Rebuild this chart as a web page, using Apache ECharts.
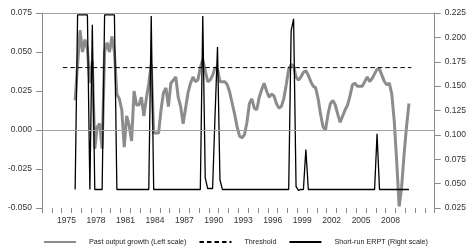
<!DOCTYPE html>
<html>
<head>
<meta charset="utf-8">
<script src="https://cdn.jsdelivr.net/npm/echarts@6/dist/echarts.min.js"></script>
<style>
html, body { margin: 0; padding: 0; background: #fff; }
#chart { width: 469px; height: 252px; }
</style>
</head>
<body>
<div id="chart"></div>
<script>
// year bands on the axis, quarters inside them
var firstYear = 1973, lastYear = 2012;
var years = [];
for (var y = firstYear; y <= lastYear; y++) years.push(String(y));
var quarters = [];
years.forEach(function (y) {
    for (var q = 1; q <= 4; q++) quarters.push(y + 'Q' + q);
});
var labelYears = ['1975', '1978', '1981', '1984', '1987', '1990', '1993', '1996', '1999', '2002', '2005', '2008'];

var seriesStart = '1976Q2';

// past output growth, left scale
var growth = [
    0.019, 0.042, 0.064, 0.050, 0.058, 0.052, 0.030, 0.044, -0.012, 0.002,
    0.004, -0.012, 0.050, 0.056, 0.050, 0.060, 0.050, 0.023, 0.020, 0.013,
    -0.011, 0.009, 0.003, -0.007, 0.025, 0.016, 0.016, 0.021, 0.009, 0.020,
    0.030, 0.042, -0.002, -0.002, -0.002, 0.013, 0.024, 0.027, 0.015, 0.030,
    0.032, 0.034, 0.021, 0.015, 0.004, 0.014, 0.024, 0.030, 0.034, 0.031,
    0.032, 0.040, 0.045, 0.038, 0.031, 0.032, 0.035, 0.040, 0.039, 0.031,
    0.031, 0.031, 0.029, 0.024, 0.017, 0.010, 0.002, -0.004, -0.005, -0.003,
    0.005, 0.017, 0.020, 0.014, 0.013, 0.021, 0.026, 0.030, 0.025, 0.021,
    0.023, 0.022, 0.017, 0.014, 0.015, 0.020, 0.029, 0.039, 0.042, 0.041,
    0.034, 0.032, 0.034, 0.037, 0.038, 0.035, 0.031, 0.028, 0.027, 0.020,
    0.010, 0.002, 0.000, 0.010, 0.017, 0.019, 0.016, 0.010, 0.005, 0.009,
    0.013, 0.016, 0.022, 0.029, 0.030, 0.028, 0.028, 0.028, 0.031, 0.034,
    0.031, 0.033, 0.036, 0.039, 0.039, 0.035, 0.031, 0.029, 0.030, 0.023,
    0.006, -0.020, -0.049, -0.037, -0.016, 0.002, 0.017
];

// short-run ERPT, right scale
var erpt = [
    0.044, 0.223, 0.223, 0.223, 0.223, 0.223, 0.044, 0.213, 0.044, 0.044,
    0.044, 0.044, 0.223, 0.223, 0.223, 0.223, 0.223, 0.044, 0.044, 0.044,
    0.044, 0.044, 0.044, 0.044, 0.044, 0.044, 0.044, 0.044, 0.044, 0.044,
    0.044, 0.222, 0.044, 0.044, 0.044, 0.044, 0.044, 0.044, 0.044, 0.044,
    0.044, 0.044, 0.044, 0.044, 0.044, 0.044, 0.044, 0.044, 0.044, 0.044,
    0.044, 0.044, 0.222, 0.056, 0.045, 0.045, 0.045, 0.120, 0.190, 0.054,
    0.044, 0.044, 0.044, 0.044, 0.044, 0.044, 0.044, 0.044, 0.044, 0.044,
    0.044, 0.044, 0.044, 0.044, 0.044, 0.044, 0.044, 0.044, 0.044, 0.044,
    0.044, 0.044, 0.044, 0.044, 0.044, 0.044, 0.044, 0.044, 0.207, 0.219,
    0.047, 0.043, 0.044, 0.044, 0.085, 0.044, 0.044, 0.044, 0.044, 0.044,
    0.044, 0.044, 0.044, 0.044, 0.044, 0.044, 0.044, 0.044, 0.044, 0.044,
    0.044, 0.044, 0.044, 0.044, 0.044, 0.044, 0.044, 0.044, 0.044, 0.044,
    0.044, 0.044, 0.044, 0.101, 0.044, 0.044, 0.044, 0.044, 0.044, 0.044,
    0.044, 0.044, 0.044, 0.044, 0.044, 0.044, 0.044
];

var thresholdValue = 0.04;
var thresholdFrom = '1975Q1', thresholdTo = '2010Q3';

var names = ['Past output growth (Left scale)', 'Threshold', 'Short-run ERPT (Right scale)'];

var offset = quarters.indexOf(seriesStart);
var growthData = growth.map(function (v, i) { return [quarters[offset + i], v]; });
var erptData = erpt.map(function (v, i) { return [quarters[offset + i], v]; });
var thresholdData = [[thresholdFrom, thresholdValue], [thresholdTo, thresholdValue]];

var font = 'Liberation Sans, Arial, sans-serif';
var axisGrey = '#8a8a8a';
function fmt(v) { return Math.abs(v) < 1e-9 ? '0.000' : v.toFixed(3); }

var chart = echarts.init(document.getElementById('chart'));
chart.setOption({
    animation: false,
    textStyle: { fontFamily: font },
    grid: { left: 42, right: 33, top: 13, bottom: 44 },
    legend: {
        left: 38,
        top: 233,
        itemWidth: 32,
        itemHeight: 10,
        itemGap: 12,
        selectedMode: false,
        itemStyle: { opacity: 0 },
        textStyle: { fontSize: 7.2, color: '#222', padding: [0, 0, 0, 8] },
        data: names
    },
    xAxis: [
        {
            type: 'category',
            data: years,
            position: 'bottom',
            boundaryGap: true,
            axisLine: { show: false, onZero: false },
            axisTick: { show: true, interval: 0, length: 5, lineStyle: { color: axisGrey } },
            axisLabel: {
                interval: function (i, v) { return labelYears.indexOf(v) >= 0; },
                margin: 8,
                fontSize: 8.5,
                color: '#333'
            },
            splitLine: { show: false }
        },
        {
            type: 'category',
            data: quarters,
            position: 'top',
            boundaryGap: true,
            axisLine: { show: true, onZero: false, lineStyle: { color: '#a0a0a0' } },
            axisTick: { show: false },
            axisLabel: { show: false },
            splitLine: { show: false }
        }
    ],
    yAxis: [
        {
            type: 'value',
            position: 'left',
            min: -0.05,
            max: 0.075,
            interval: 0.025,
            axisLine: { show: true, lineStyle: { color: axisGrey } },
            axisTick: { show: true, length: 6, lineStyle: { color: axisGrey } },
            axisLabel: { formatter: fmt, margin: 10, fontSize: 8.5, color: '#333' },
            splitLine: { show: false }
        },
        {
            type: 'value',
            position: 'right',
            min: 0.025,
            max: 0.225,
            interval: 0.025,
            axisLine: { show: true, lineStyle: { color: axisGrey } },
            axisTick: { show: true, length: 6, lineStyle: { color: axisGrey } },
            axisLabel: { formatter: fmt, margin: 10, fontSize: 8.5, color: '#333' },
            splitLine: { show: false }
        }
    ],
    series: [
        {
            type: 'line',
            xAxisIndex: 1,
            yAxisIndex: 0,
            data: [],
            z: 1,
            markLine: {
                silent: true,
                symbol: 'none',
                label: { show: false },
                lineStyle: { color: '#a0a0a0', width: 1, type: 'solid' },
                data: [{ yAxis: 0 }]
            }
        },
        {
            name: names[0],
            type: 'line',
            xAxisIndex: 1,
            yAxisIndex: 0,
            data: growthData,
            symbol: 'none',
            z: 2,
            lineStyle: { color: '#8c8c8c', width: 3 },
            itemStyle: { color: '#8c8c8c' }
        },
        {
            name: names[1],
            type: 'line',
            xAxisIndex: 1,
            yAxisIndex: 0,
            data: thresholdData,
            symbol: 'none',
            z: 3,
            lineStyle: { color: '#000', width: 1, type: [4.5, 3] },
            itemStyle: { color: '#000' }
        },
        {
            name: names[2],
            type: 'line',
            xAxisIndex: 1,
            yAxisIndex: 1,
            data: erptData,
            symbol: 'none',
            z: 4,
            lineStyle: { color: '#000', width: 1.3 },
            itemStyle: { color: '#000' }
        }
    ]
});
</script>
</body>
</html>
